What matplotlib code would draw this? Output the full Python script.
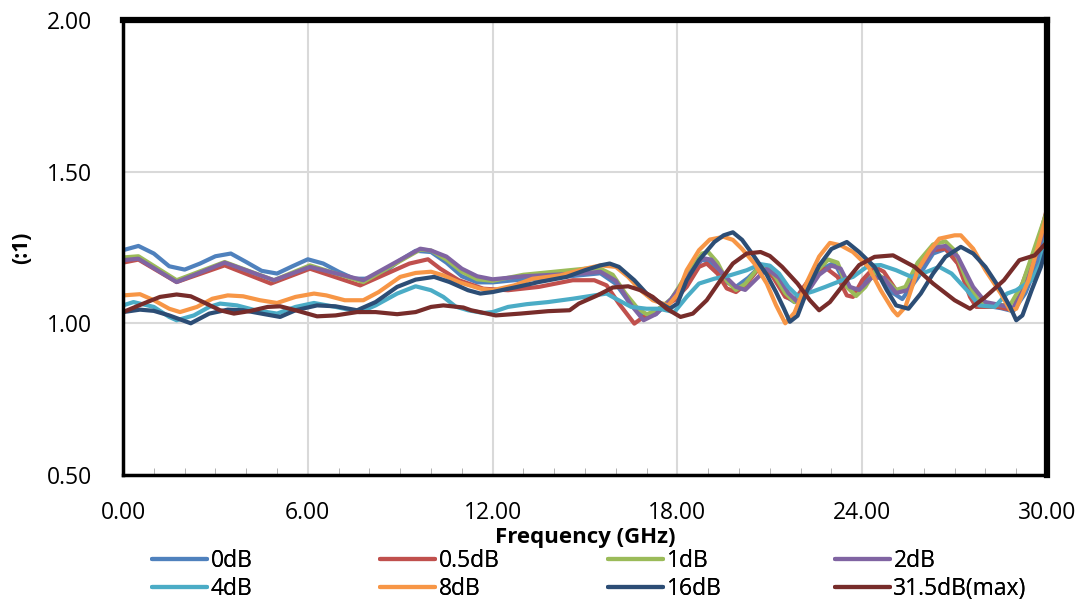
import matplotlib.pyplot as plt
from matplotlib.ticker import MultipleLocator

plt.rcParams['font.family'] = ['Open Sans', 'DejaVu Sans']

labels = ['0dB', '0.5dB', '1dB', '2dB', '4dB', '8dB', '16dB', '31.5dB(max)']
colors = ['#4F81BD', '#C0504D', '#9BBB59', '#8064A2',
          '#4BACC6', '#F79646', '#2C4D75', '#772C2A']

# readings: frequency (GHz) and VSWR (:1)
f_0db = [0, 0.5, 1, 1.5, 2, 2.5, 3, 3.5, 4, 4.5, 5, 5.5, 6, 6.5, 7, 7.5, 8, 8.5, 9, 9.5,
         10, 10.5, 11, 11.5, 12, 13, 14, 15, 15.5, 16, 16.5, 16.9, 17.3, 17.8, 18.3, 18.8,
         19.1, 19.5, 19.9, 20.3, 20.7, 21.1, 21.5, 21.8, 22.2, 22.7, 23.1, 23.5, 23.8, 24.3,
         24.6, 25, 25.3, 25.8, 26.3, 26.7, 27.1, 27.5, 27.9, 28.5, 28.9, 29.3, 29.7, 30]
v_0db = [1.241, 1.255, 1.23, 1.188, 1.177, 1.197, 1.221, 1.23, 1.202, 1.173, 1.164, 1.188,
         1.211, 1.197, 1.17, 1.147, 1.147, 1.17, 1.208, 1.239, 1.235, 1.2, 1.155, 1.135,
         1.135, 1.145, 1.15, 1.16, 1.165, 1.13, 1.06, 1.02, 1.03, 1.08, 1.15, 1.21, 1.2, 1.14,
         1.12, 1.15, 1.19, 1.16, 1.09, 1.07, 1.12, 1.18, 1.2, 1.12, 1.1, 1.17, 1.15, 1.1,
         1.08, 1.15, 1.23, 1.245, 1.2, 1.11, 1.06, 1.05, 1.04, 1.1, 1.2, 1.33]

f_05db = [0, 0.5, 1.74, 3.3, 4.8, 6.07, 7.7, 9.3, 9.9, 10.3, 10.9, 11.7, 12.5, 13.5, 14.6,
          15.3, 15.7, 16.1, 16.6, 16.9, 17.3, 17.9, 18.3, 18.7, 18.95, 19.3, 19.6, 19.9,
          20.25, 20.6, 20.8, 21.1, 21.5, 21.8, 22.1, 22.5, 22.85, 23.2, 23.5, 23.7, 24.0,
          24.4, 24.7, 25.1, 25.4, 25.9, 26.3, 26.7, 27.1, 27.5, 27.7, 28.4, 28.9, 29.2, 29.7, 30]
v_05db = [1.2, 1.21, 1.136, 1.191, 1.131, 1.18, 1.125, 1.197, 1.211, 1.18, 1.142, 1.114,
          1.109, 1.12, 1.142, 1.142, 1.125, 1.065, 0.999, 1.021, 1.043, 1.076, 1.12, 1.186,
          1.197, 1.164, 1.115, 1.103, 1.131, 1.175, 1.18, 1.153, 1.087, 1.076, 1.12, 1.175,
          1.18, 1.153, 1.092, 1.087, 1.142, 1.186, 1.17, 1.109, 1.109, 1.197, 1.241, 1.246,
          1.197, 1.087, 1.054, 1.054, 1.043, 1.131, 1.263, 1.378]

f_1db = [0, 0.5, 1.74, 3.3, 4.9, 6.07, 7.8, 9.65, 10, 10.5, 11, 11.5, 12, 13, 14, 14.5, 15,
         15.5, 15.9, 16.3, 16.7, 17.0, 17.3, 17.8, 18.3, 18.8, 19.0, 19.3, 19.6, 19.9, 20.2,
         20.6, 20.9, 21.2, 21.5, 21.8, 22.1, 22.5, 22.9, 23.2, 23.5, 23.8, 24.1, 24.4, 24.8,
         25.1, 25.4, 25.8, 26.3, 26.7, 27.0, 27.4, 27.8, 28.3, 28.8, 29.2, 29.6, 30]
v_1db = [1.217, 1.221, 1.142, 1.202, 1.142, 1.191, 1.136, 1.243, 1.24, 1.21, 1.17, 1.145,
         1.14, 1.16, 1.17, 1.175, 1.18, 1.18, 1.16, 1.1, 1.05, 1.03, 1.04, 1.08, 1.16, 1.23,
         1.235, 1.2, 1.14, 1.11, 1.13, 1.18, 1.19, 1.15, 1.1, 1.07, 1.1, 1.17, 1.21, 1.2, 1.12,
         1.09, 1.12, 1.17, 1.14, 1.11, 1.12, 1.2, 1.26, 1.27, 1.24, 1.14, 1.07, 1.06, 1.06,
         1.13, 1.25, 1.37]

f_2db = [0, 0.5, 1.74, 3.3, 4.9, 6.07, 7.8, 9.65, 10, 10.5, 11, 11.5, 12, 13, 14, 15, 15.5,
         16.0, 16.5, 16.9, 17.3, 17.8, 18.3, 18.8, 19.1, 19.5, 19.9, 20.2, 20.5, 20.9, 21.3,
         21.6, 21.9, 22.2, 22.6, 23.0, 23.3, 23.6, 23.9, 24.3, 24.7, 25.1, 25.5, 25.9, 26.4,
         26.7, 27.1, 27.6, 28.0, 28.5, 28.9, 29.3, 29.7, 30]
v_2db = [1.208, 1.213, 1.136, 1.2, 1.142, 1.186, 1.142, 1.246, 1.24, 1.22, 1.18, 1.155,
         1.145, 1.155, 1.16, 1.165, 1.17, 1.14, 1.06, 1.01, 1.03, 1.08, 1.15, 1.215, 1.21,
         1.16, 1.12, 1.11, 1.14, 1.18, 1.15, 1.1, 1.07, 1.1, 1.16, 1.19, 1.18, 1.12, 1.11,
         1.15, 1.15, 1.1, 1.11, 1.19, 1.25, 1.255, 1.22, 1.12, 1.07, 1.06, 1.05, 1.12, 1.24,
         1.35]

f_4db = [0, 0.34, 1, 1.5, 1.74, 2.3, 2.8, 3.15, 3.7, 4.3, 5, 5.6, 6.2, 6.9, 7.7, 8.2, 8.9,
         9.5, 10, 10.4, 10.8, 11.2, 11.7, 12, 12.5, 13.1, 13.8, 14.6, 15.3, 15.7, 16.0, 16.5,
         17, 17.4, 17.9, 18.3, 18.7, 19.2, 19.7, 20.25, 20.7, 21.0, 21.3, 21.6, 21.9, 22.4,
         22.8, 23.3, 23.7, 24.2, 24.6, 25.1, 25.6, 26.1, 26.5, 26.9, 27.4, 27.8, 28.3, 28.7,
         29.0, 29.5, 29.8, 30]
v_4db = [1.059, 1.07, 1.054, 1.021, 1.01, 1.026, 1.054, 1.065, 1.059, 1.043, 1.032, 1.054,
         1.067, 1.054, 1.037, 1.059, 1.098, 1.122, 1.109, 1.087, 1.055, 1.043, 1.034, 1.037,
         1.054, 1.063, 1.07, 1.081, 1.092, 1.098, 1.081, 1.054, 1.048, 1.048, 1.037, 1.087,
         1.131, 1.147, 1.158, 1.175, 1.195, 1.19, 1.164, 1.12, 1.09, 1.105, 1.12, 1.14, 1.153,
         1.19, 1.192, 1.175, 1.153, 1.17, 1.186, 1.164, 1.109, 1.059, 1.054, 1.098, 1.109,
         1.142, 1.2, 1.3]

f_8db = [0, 0.55, 1, 1.5, 1.85, 2.4, 2.9, 3.4, 3.9, 4.45, 5, 5.6, 6.2, 6.6, 7.2, 7.8, 8.3,
         9.0, 9.5, 10, 10.4, 10.9, 11.6, 12, 12.7, 13.3, 14.2, 15, 15.5, 16, 16.4, 16.8, 17.2,
         17.7, 18.0, 18.3, 18.7, 19.05, 19.5, 19.8, 20.1, 20.5, 20.9, 21.2, 21.5, 21.8, 22.2,
         22.6, 22.95, 23.3, 23.7, 24.2, 24.6, 25.0, 25.15, 25.4, 25.8, 26.2, 26.5, 27.0, 27.2,
         27.6, 28.0, 28.5, 28.8, 29.0, 29.4, 29.7, 30]
v_8db = [1.092, 1.096, 1.076, 1.048, 1.037, 1.054, 1.081, 1.092, 1.089, 1.076, 1.067, 1.087,
         1.098, 1.092, 1.076, 1.076, 1.103, 1.153, 1.166, 1.17, 1.158, 1.136, 1.114, 1.109,
         1.125, 1.147, 1.158, 1.18, 1.191, 1.186, 1.153, 1.109, 1.076, 1.059, 1.095, 1.175,
         1.241, 1.276, 1.285, 1.275, 1.245, 1.197, 1.131, 1.06, 1.0, 1.035, 1.135, 1.22,
         1.265, 1.257, 1.235, 1.186, 1.109, 1.043, 1.026, 1.054, 1.175, 1.241, 1.279, 1.29,
         1.29, 1.246, 1.175, 1.098, 1.043, 1.048, 1.142, 1.252, 1.36]

f_16db = [0, 0.55, 1, 1.5, 2.2, 2.8, 3.4, 3.9, 4.6, 5.1, 5.6, 6.3, 6.9, 7.6, 8.2, 8.9, 9.5,
          10.1, 10.6, 11.2, 11.6, 12, 12.8, 13.5, 14.4, 15, 15.5, 15.8, 16.1, 16.6, 17, 17.4,
          17.75, 18, 18.3, 18.7, 19.2, 19.5, 19.8, 20.1, 20.5, 20.9, 21.2, 21.45, 21.65, 21.9,
          22.2, 22.6, 23.0, 23.5, 23.9, 24.4, 24.8, 25.1, 25.5, 25.9, 26.3, 26.7, 27.2, 27.6,
          28.0, 28.5, 28.8, 29.0, 29.2, 29.5, 29.8, 30]
v_16db = [1.037, 1.045, 1.041, 1.026, 1.0, 1.032, 1.045, 1.043, 1.03, 1.021, 1.043, 1.059,
          1.056, 1.043, 1.07, 1.12, 1.144, 1.153, 1.136, 1.109, 1.098, 1.103, 1.12, 1.136,
          1.153, 1.175, 1.191, 1.197, 1.186, 1.142, 1.098, 1.07, 1.048, 1.065, 1.142, 1.208,
          1.268, 1.29, 1.3, 1.275, 1.219, 1.16, 1.103, 1.05, 1.005, 1.025, 1.105, 1.19,
          1.245, 1.268, 1.235, 1.186, 1.109, 1.059, 1.048, 1.098, 1.164, 1.219, 1.252, 1.23,
          1.186, 1.109, 1.054, 1.01, 1.026, 1.109, 1.186, 1.255]

f_315db = [0, 0.66, 1.2, 1.74, 2.2, 2.6, 3.15, 3.6, 4.1, 4.7, 5.1, 5.6, 6.3, 6.9, 7.6, 8.2,
           8.9, 9.5, 10, 10.4, 11.05, 11.3, 12.1, 12.9, 13.8, 14.5, 14.8, 15.4, 15.9, 16.4,
           16.8, 17.2, 17.65, 18.1, 18.5, 18.95, 19.4, 19.8, 20.25, 20.7, 21.0, 21.4, 21.9,
           22.3, 22.6, 22.95, 23.5, 23.9, 24.4, 25.0, 25.7, 26.3, 27.0, 27.5, 28.0, 28.6,
           29.1, 29.6, 30]
v_315db = [1.037, 1.065, 1.087, 1.095, 1.089, 1.07, 1.043, 1.032, 1.04, 1.054, 1.056, 1.043,
           1.023, 1.026, 1.037, 1.037, 1.03, 1.037, 1.054, 1.059, 1.052, 1.043, 1.026, 1.032,
           1.04, 1.043, 1.065, 1.092, 1.118, 1.122, 1.109, 1.087, 1.048, 1.021, 1.032, 1.076,
           1.142, 1.197, 1.23, 1.235, 1.222, 1.186, 1.131, 1.076, 1.043, 1.07, 1.142, 1.192,
           1.219, 1.224, 1.186, 1.131, 1.076, 1.048, 1.087, 1.142, 1.208, 1.224, 1.268]

freqs = [f_0db, f_05db, f_1db, f_2db, f_4db, f_8db, f_16db, f_315db]
vswr = [v_0db, v_05db, v_1db, v_2db, v_4db, v_8db, v_16db, v_315db]

fig = plt.figure(figsize=(10.82, 6.04), dpi=100)
ax = fig.add_axes([0.1137, 0.2136, 0.8540, 0.7534])

lines = []
for f, v, lab, c in zip(freqs, vswr, labels, colors):
    ln, = ax.plot(f, v, color=c, lw=3.0, label=lab, solid_capstyle='round')
    lines.append(ln)

ax.set_xlim(0, 30)
ax.set_ylim(0.5, 2.0)
ax.set_xticks([0, 6, 12, 18, 24, 30])
ax.set_yticks([0.5, 1.0, 1.5, 2.0])
ax.set_xticklabels(['%.2f' % t for t in [0, 6, 12, 18, 24, 30]])
ax.set_yticklabels(['%.2f' % t for t in [0.5, 1.0, 1.5, 2.0]])
ax.xaxis.set_minor_locator(MultipleLocator(1))
ax.tick_params(axis='both', which='major', length=0, labelsize=16.5)
ax.tick_params(axis='x', which='major', pad=19)
ax.tick_params(axis='y', which='major', pad=22)
ax.tick_params(axis='x', which='minor', direction='in', length=5, color='#A6A6A6')
ax.grid(True, which='major', color='#D9D9D9', lw=1.5)

for side in ['left', 'bottom']:
    ax.spines[side].set_linewidth(2.5)
for side in ['top', 'right']:
    ax.spines[side].set_linewidth(4.5)

ax.set_xlabel('Frequency (GHz)', fontsize=16, fontweight='bold')
ax.xaxis.set_label_coords(0.5, -0.114)
ax.set_ylabel('(:1)', fontsize=15, fontweight='bold')
ax.yaxis.set_label_coords(-0.098, 0.5)

# legend: 4 fixed columns, two rows (row-wise like the original)
col_x = [152, 380, 608, 835]
for k in range(4):
    leg = fig.legend(handles=[lines[k], lines[k + 4]], loc='upper left',
                     bbox_to_anchor=(col_x[k] / 1082, 1 - 549 / 604),
                     frameon=False, fontsize=16.5, handlelength=2.4,
                     handletextpad=0.15, labelspacing=0.17, borderpad=0,
                     borderaxespad=0)
    fig.add_artist(leg)

fig.savefig('out.png', dpi=100)
